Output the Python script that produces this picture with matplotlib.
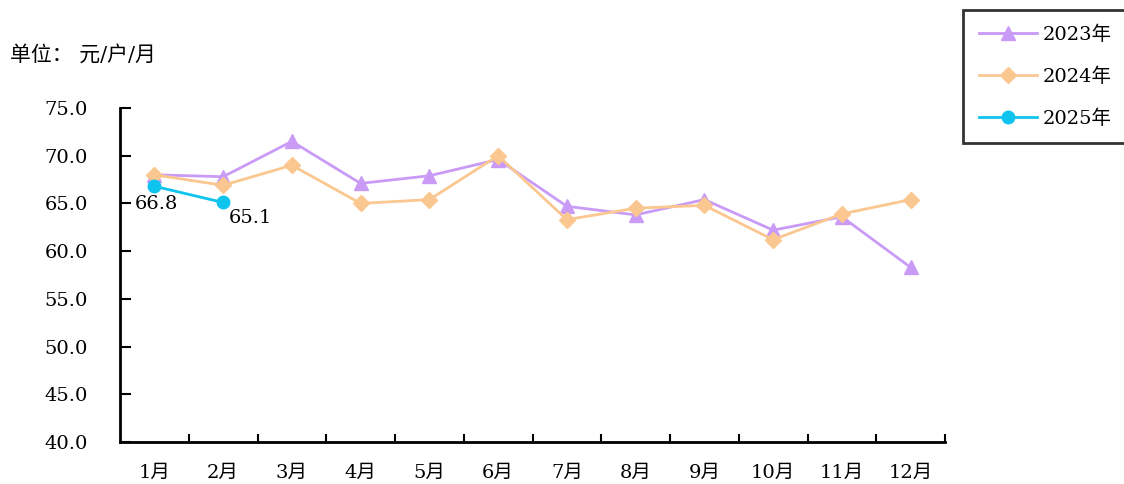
import matplotlib
matplotlib.use('Agg')
import matplotlib.pyplot as plt
from matplotlib.ticker import FixedLocator, NullFormatter

plt.rcParams['font.family'] = ['DejaVu Serif', 'Noto Sans CJK SC', 'DejaVu Sans']

months = ['1月', '2月', '3月', '4月', '5月', '6月', '7月', '8月', '9月', '10月', '11月', '12月']
y2023 = [68.0, 67.8, 71.5, 67.1, 67.9, 69.6, 64.7, 63.8, 65.4, 62.2, 63.6, 58.3]
y2024 = [68.0, 66.9, 69.0, 65.0, 65.4, 70.0, 63.3, 64.5, 64.8, 61.2, 63.9, 65.4]
y2025 = [66.8, 65.1]
yticks = [40, 45, 50, 55, 60, 65, 70, 75]

c23 = '#C99BF6'
c24 = '#FBC790'
c25 = '#0EC4EE'
fs = 14

fig = plt.figure(figsize=(11.24, 4.84), dpi=100)
ax = fig.add_axes([120 / 1124, 42 / 484, 825 / 1124, 334 / 484])

x = list(range(len(months)))
ax.plot(x, y2023, color=c23, lw=2, marker='^', ms=10, label='2023年')
ax.plot(x, y2024, color=c24, lw=2, marker='D', ms=8, label='2024年')
ax.plot(x[:len(y2025)], y2025, color=c25, lw=2, marker='o', ms=9, label='2025年')

# data labels for 2025
ax.annotate(f'{y2025[0]:.1f}', (0, y2025[0]), xytext=(-14, -13), textcoords='offset points',
            fontsize=fs, ha='left', va='center')
ax.annotate(f'{y2025[1]:.1f}', (1, y2025[1]), xytext=(4, -11), textcoords='offset points',
            fontsize=fs, ha='left', va='center')

ax.set_xlim(-0.5, 11.5)
ax.set_ylim(40, 75)
ax.set_yticks(yticks)
ax.set_yticklabels([f'{v:.1f}' for v in yticks], fontsize=fs)

ax.xaxis.set_major_locator(FixedLocator([i + 0.5 for i in x]))
ax.xaxis.set_major_formatter(NullFormatter())
ax.xaxis.set_minor_locator(FixedLocator(x))
ax.set_xticklabels(months, minor=True, fontsize=fs)
ax.tick_params(axis='x', which='major', direction='in', length=6, width=1.5)
ax.tick_params(axis='x', which='minor', length=0, pad=16)
ax.tick_params(axis='y', direction='in', length=8, width=1.5, pad=23)

for s in ['top', 'right']:
    ax.spines[s].set_visible(False)
for s in ['left', 'bottom']:
    ax.spines[s].set_linewidth(2)

fig.text(10 / 1124, 1 - 55 / 484, '单位： 元/户/月', fontsize=15, va='center')

leg = fig.legend(loc='upper left', bbox_to_anchor=(963 / 1124, 1 - 10 / 484), fontsize=fs,
                 frameon=True, fancybox=False, edgecolor='black', borderpad=0.8,
                 labelspacing=1.2, handlelength=3.0, handletextpad=0.3, borderaxespad=0)
leg.get_frame().set_linewidth(2)

fig.savefig('out.png', dpi=100)
